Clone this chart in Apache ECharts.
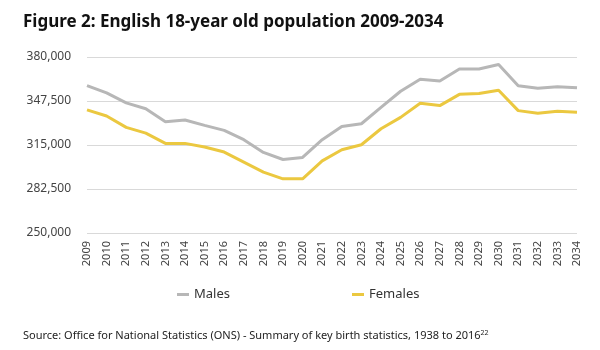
<!DOCTYPE html>
<html>
<head>
    <meta charset="utf-8">
    <title>English 18-year old population</title>
    <script src="https://cdn.jsdelivr.net/npm/echarts@6/dist/echarts.min.js"></script>
    <style>
        body { margin: 0; background: #fff; }
    </style>
</head>
<body>
    <div id="main" style="width:600px; height:350px;"></div>

    <script type="text/javascript">
        var years = ['2009', '2010', '2011', '2012', '2013', '2014', '2015', '2016', '2017',
                     '2018', '2019', '2020', '2021', '2022', '2023', '2024', '2025', '2026',
                     '2027', '2028', '2029', '2030', '2031', '2032', '2033', '2034'];

        var males = [358900, 353500, 346100, 341800, 332200, 333500, 329500, 325800, 318900,
                     309500, 304300, 305800, 318900, 328700, 330700, 342800, 354700, 363600,
                     362300, 371200, 371200, 374400, 358700, 356900, 358100, 357200];

        var females = [340900, 336400, 328000, 323800, 316200, 316200, 313500, 309800, 302400,
                       295000, 290000, 290000, 303300, 311500, 315200, 327000, 335400, 345800,
                       344100, 352400, 353000, 355400, 340400, 338400, 339900, 339100];

        var yMin = 250000;
        var yMax = 380000;
        var yStep = 32500;

        var font = 'Noto Sans';

        var myChart = echarts.init(document.getElementById('main'));

        myChart.setOption({
            animation: false,
            title: [
                {
                    text: 'Figure 2: English 18-year old population 2009-2034',
                    left: 18,
                    top: 9,
                    textStyle: {
                        fontFamily: font,
                        fontWeight: 'bold',
                        fontSize: 17,
                        color: '#111'
                    }
                },
                {
                    text: 'Source: Office for National Statistics (ONS) - Summary of key birth statistics, 1938 to 2016{sup|22}',
                    left: 18,
                    top: 324,
                    textStyle: {
                        fontFamily: font,
                        fontWeight: 'normal',
                        fontSize: 11,
                        color: '#222',
                        rich: {
                            sup: { fontSize: 7, verticalAlign: 'top', padding: [0, 0, 6, 0], fontFamily: font, color: '#222' }
                        }
                    }
                }
            ],
            grid: {
                left: 87,
                right: 23,
                top: 57,
                bottom: 117
            },
            legend: {
                data: ['Males', 'Females'],
                left: 172,
                top: 283,
                itemGap: 122,
                itemWidth: 12,
                itemHeight: 3,
                icon: 'rect',
                textStyle: {
                    fontFamily: font,
                    fontSize: 13,
                    color: '#333'
                }
            },
            xAxis: {
                type: 'category',
                data: years,
                boundaryGap: false,
                axisLine: { show: false },
                axisTick: { show: false },
                axisLabel: {
                    rotate: 90,
                    interval: 0,
                    margin: 8,
                    fontFamily: font,
                    fontSize: 11,
                    color: '#444'
                }
            },
            yAxis: {
                type: 'value',
                min: yMin,
                max: yMax,
                interval: yStep,
                axisLine: { show: false },
                axisTick: { show: false },
                splitLine: { lineStyle: { color: '#d9d9d9', width: 1 } },
                axisLabel: {
                    margin: 16,
                    fontFamily: font,
                    fontSize: 12,
                    color: '#444',
                    formatter: function(value) {
                        return value.toLocaleString('en-GB');
                    }
                }
            },
            series: [
                {
                    name: 'Males',
                    type: 'line',
                    data: males,
                    symbol: 'none',
                    lineStyle: { color: '#b7b7b7', width: 3 },
                    itemStyle: { color: '#b7b7b7' }
                },
                {
                    name: 'Females',
                    type: 'line',
                    data: females,
                    symbol: 'none',
                    lineStyle: { color: '#ebc840', width: 3 },
                    itemStyle: { color: '#ebc840' }
                }
            ]
        });
    </script>
</body>
</html>
